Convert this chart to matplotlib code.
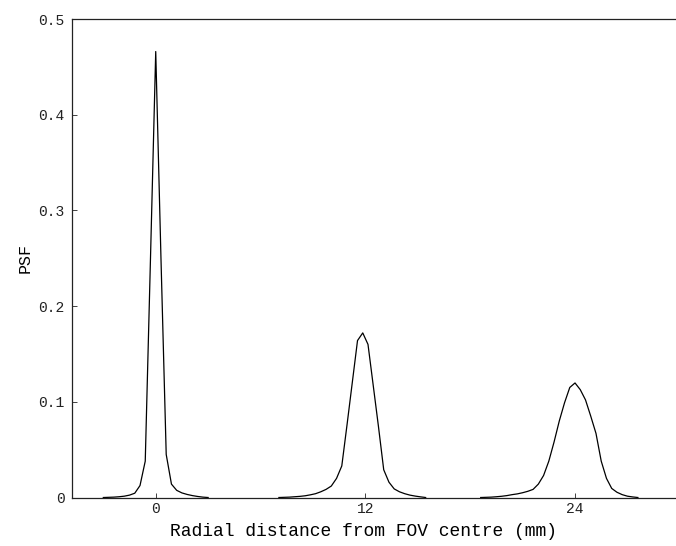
import matplotlib
matplotlib.use("Agg")
import matplotlib.pyplot as plt

# PSF profiles at three radial offsets (mm)
x_centro = [-3.0, -2.7, -2.4, -2.1, -1.8, -1.5, -1.2, -0.9, -0.6, -0.3, 0.0,
            0.3, 0.6, 0.9, 1.2, 1.5, 1.8, 2.1, 2.4, 2.7, 3.0]
psf_centro = [0.0, 0.0002, 0.0004, 0.0008, 0.0014, 0.0025, 0.0045, 0.0125, 0.038, 0.25, 0.466,
              0.25, 0.045, 0.014, 0.0075, 0.0048, 0.0032, 0.002, 0.0011, 0.0004, 0.0]

x_12 = [7.05, 7.35, 7.65, 7.95, 8.25, 8.55, 8.85, 9.15, 9.45, 9.75, 10.05, 10.35, 10.65,
        10.95, 11.25, 11.55, 11.85, 12.15, 12.45, 12.75, 13.05, 13.35, 13.65, 13.95,
        14.25, 14.55, 14.85, 15.15, 15.45]
psf_12 = [0.0, 0.0002, 0.0004, 0.0008, 0.0012, 0.0018, 0.0028, 0.004, 0.006, 0.0085, 0.012,
          0.02, 0.033, 0.076, 0.12, 0.164, 0.172, 0.16, 0.117, 0.074, 0.029, 0.016, 0.009,
          0.006, 0.004, 0.0025, 0.0015, 0.0007, 0.0]

x_24 = [18.6, 18.9, 19.2, 19.5, 19.8, 20.1, 20.4, 20.7, 21.0, 21.3, 21.6, 21.9, 22.2,
        22.5, 22.8, 23.1, 23.4, 23.7, 24.0, 24.3, 24.6, 24.9, 25.2, 25.5, 25.8, 26.1,
        26.4, 26.7, 27.0, 27.3, 27.6]
psf_24 = [0.0, 0.0002, 0.0004, 0.0008, 0.0013, 0.002, 0.003, 0.0038, 0.005, 0.0065, 0.0085,
          0.014, 0.023, 0.038, 0.058, 0.08, 0.099, 0.115, 0.1197, 0.1127, 0.102, 0.085,
          0.067, 0.038, 0.02, 0.0095, 0.0055, 0.003, 0.0014, 0.0006, 0.0]

xticks = [0, 12, 24]
yticks = [0, 0.1, 0.2, 0.3, 0.4, 0.5]
ytick_labels = ["0", "0.1", "0.2", "0.3", "0.4", "0.5"]

plt.rcParams['font.family'] = ['Liberation Mono', 'DejaVu Sans Mono']

fig = plt.figure(figsize=(6.76, 5.46), dpi=100)
ax = fig.add_axes([0.1058, 0.0888, 0.8942, 0.8764])

for xs, ys in [(x_centro, psf_centro), (x_12, psf_12), (x_24, psf_24)]:
    ax.plot(xs, ys, color='black', linewidth=0.9)

ax.set_xlim(-4.82, 29.78)
ax.set_ylim(0, 0.5)
ax.set_xticks(xticks)
ax.set_yticks(yticks)
ax.set_yticklabels(ytick_labels)
ax.tick_params(direction='in', length=3.6, width=0.6, labelsize=10.5, colors='#222222')
ax.tick_params(axis='x', pad=3)
ax.tick_params(axis='y', pad=5)
ax.spines['right'].set_visible(False)
for s in ['left', 'bottom', 'top']:
    ax.spines[s].set_linewidth(0.9)
    ax.spines[s].set_color('#222222')

ax.set_xlabel('Radial distance from FOV centre (mm)', fontsize=13)
ax.xaxis.set_label_coords(0.4826, -0.070, transform=ax.transAxes)
ax.xaxis.label.set_va('center')
ax.set_ylabel('PSF', fontsize=12, labelpad=4)

fig.savefig('out.png', dpi=100)
